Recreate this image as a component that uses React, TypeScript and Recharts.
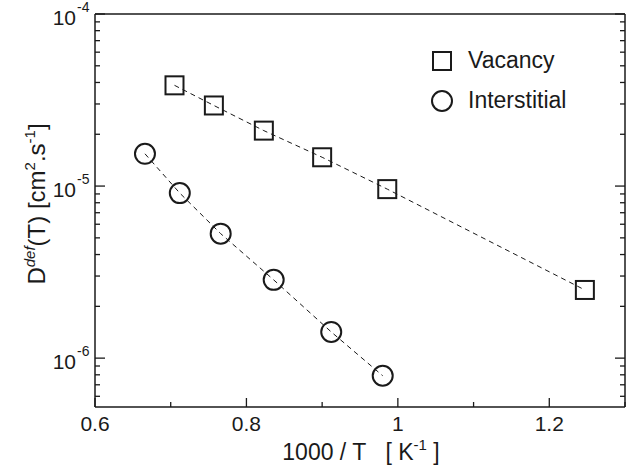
import React from "react";
import {
  ScatterChart,
  Scatter,
  XAxis,
  YAxis,
} from "recharts";

// 1000/T [K^-1] and D_def [cm^2/s]
const vacancyX = [0.705, 0.757, 0.823, 0.9, 0.986, 1.247];
const vacancyD = [3.85e-5, 2.94e-5, 2.1e-5, 1.47e-5, 9.6e-6, 2.49e-6];
const interstitialX = [0.666, 0.712, 0.766, 0.836, 0.912, 0.98];
const interstitialD = [1.54e-5, 9.1e-6, 5.29e-6, 2.85e-6, 1.42e-6, 7.9e-7];

const xTicks = [0.6, 0.7, 0.8, 0.9, 1.0, 1.1, 1.2, 1.3];
const xLabels: Record<string, string> = { "0.6": "0.6", "0.8": "0.8", "1": "1", "1.2": "1.2" };
const decades = [-7, -6, -5];
const yTicks = decades
  .flatMap((d) => [1, 2, 3, 4, 5, 6, 7, 8, 9].map((m) => m * Math.pow(10, d)))
  .concat([1e-4])
  .filter((v) => v >= 5.2e-7);

const vacancy = vacancyX.map((x, i) => ({ x, y: vacancyD[i] }));
const interstitial = interstitialX.map((x, i) => ({ x, y: interstitialD[i] }));

const FONT = "'Liberation Sans', Arial, Helvetica, sans-serif";
const INK = "#1a1a1a";

const isMajorX = (v: number) => xLabels[String(+v.toFixed(1))] !== undefined;
const isDecade = (v: number) => {
  const l = Math.log10(v);
  return Math.abs(l - Math.round(l)) < 1e-6;
};

const BottomTick = (props: any) => {
  const { x, y, payload } = props;
  const key = String(+payload.value.toFixed(1));
  const major = isMajorX(payload.value);
  return (
    <g>
      <line x1={x} x2={x} y1={y} y2={y - (major ? 9 : 5)} stroke={INK} strokeWidth={1.3} />
      {major && (
        <text x={x} y={y + 24} textAnchor="middle" fontSize={21} fontFamily={FONT} fill={INK}>
          {xLabels[key]}
        </text>
      )}
    </g>
  );
};

const TopTick = (props: any) => {
  const { x, y, payload } = props;
  const major = isMajorX(payload.value);
  return <line x1={x} x2={x} y1={y} y2={y + (major ? 9 : 5)} stroke={INK} strokeWidth={1.3} />;
};

const LeftTick = (props: any) => {
  const { x, y, payload } = props;
  const major = isDecade(payload.value);
  const exp = Math.round(Math.log10(payload.value));
  return (
    <g>
      <line x1={x} x2={x + (major ? 10 : 5)} y1={y} y2={y} stroke={INK} strokeWidth={1.3} />
      {major && (
        <text x={x - 19} y={y + 11} textAnchor="end" fontSize={21} fontFamily={FONT} fill={INK}>
          10
        </text>
      )}
      {major && (
        <text x={x - 18} y={y - 2} textAnchor="start" fontSize={14} fontFamily={FONT} fill={INK}>
          {exp}
        </text>
      )}
    </g>
  );
};

const RightTick = (props: any) => {
  const { x, y, payload } = props;
  const major = isDecade(payload.value);
  return <line x1={x} x2={x - (major ? 10 : 5)} y1={y} y2={y} stroke={INK} strokeWidth={1.3} />;
};

const SquareDot = (props: any) => (
  <rect x={props.cx - 9} y={props.cy - 9} width={18} height={18} fill="none" stroke={INK} strokeWidth={2} />
);
const CircleDot = (props: any) => (
  <circle cx={props.cx} cy={props.cy} r={10} fill="none" stroke={INK} strokeWidth={2} />
);

const LegendBox = () => (
  <svg width={180} height={70} style={{ position: "absolute", left: 430, top: 46, overflow: "visible" }}>
    <rect x={3} y={6} width={18} height={18} fill="none" stroke={INK} strokeWidth={2} />
    <text x={38} y={22} fontSize={23} fontFamily={FONT} fill={INK}>Vacancy</text>
    <circle cx={12} cy={55} r={10} fill="none" stroke={INK} strokeWidth={2} />
    <text x={38} y={62} fontSize={23} fontFamily={FONT} fill={INK}>Interstitial</text>
  </svg>
);

const YLabel = () => (
  <text transform="translate(45,204) rotate(-90)" textAnchor="middle" fontSize={24} fontFamily={FONT} fill={INK}>
    D
    <tspan fontSize={15} fontStyle="italic" dy={-10}>def</tspan>
    <tspan dy={10}>(T) [cm</tspan>
    <tspan fontSize={15} dy={-10}>2</tspan>
    <tspan dy={10}>.s</tspan>
    <tspan fontSize={15} dy={-10}>-1</tspan>
    <tspan dy={10}>]</tspan>
  </text>
);

const XLabel = () => (
  <text x={361} y={460} textAnchor="middle" fontSize={23} fontFamily={FONT} fill={INK}>
    1000 / T{"\u00a0\u00a0\u00a0"}[ K
    <tspan fontSize={15} dy={-10}>-1</tspan>
    <tspan dy={10}>{"\u00a0"}]</tspan>
  </text>
);

export default function App() {
  return (
    <div style={{ position: "relative", width: 637, height: 472, background: "#fff" }}>
      <style>{`body{margin:0}`}</style>
      <ScatterChart width={637} height={472} margin={{ top: 0, right: 0, bottom: 0, left: 0 }}>
        <XAxis
          xAxisId="bottom"
          dataKey="x"
          type="number"
          domain={[0.6, 1.3]}
          ticks={xTicks}
          interval={0}
          height={65}
          tickSize={0}
          tickMargin={0}
          tickLine={false}
          tick={<BottomTick />}
          axisLine={{ stroke: INK, strokeWidth: 1.5 }}
          allowDataOverflow
          label={{ content: () => <XLabel /> }}
        />
        <XAxis
          xAxisId="top"
          orientation="top"
          type="number"
          domain={[0.6, 1.3]}
          ticks={xTicks}
          interval={0}
          height={14}
          tickSize={0}
          tickMargin={0}
          tickLine={false}
          tick={<TopTick />}
          axisLine={{ stroke: INK, strokeWidth: 1.5 }}
          allowDataOverflow
        />
        <YAxis
          yAxisId="left"
          dataKey="y"
          type="number"
          scale="log"
          domain={[5.2e-7, 1e-4]}
          ticks={yTicks}
          interval={0}
          width={95}
          tickSize={0}
          tickMargin={0}
          tickLine={false}
          tick={<LeftTick />}
          axisLine={{ stroke: INK, strokeWidth: 1.5 }}
          allowDataOverflow
          label={{ content: () => <YLabel /> }}
        />
        <YAxis
          yAxisId="right"
          orientation="right"
          type="number"
          scale="log"
          domain={[5.2e-7, 1e-4]}
          ticks={yTicks}
          interval={0}
          width={12}
          tickSize={0}
          tickMargin={0}
          tickLine={false}
          tick={<RightTick />}
          axisLine={{ stroke: INK, strokeWidth: 1.5 }}
          allowDataOverflow
        />
        <Scatter
          name="Vacancy"
          data={vacancy}
          xAxisId="bottom"
          yAxisId="left"
          line={{ stroke: INK, strokeWidth: 1, strokeDasharray: "5 4" }}
          shape={<SquareDot />}
          isAnimationActive={false}
        />
        <Scatter
          name="Interstitial"
          data={interstitial}
          xAxisId="bottom"
          yAxisId="left"
          line={{ stroke: INK, strokeWidth: 1, strokeDasharray: "5 4" }}
          shape={<CircleDot />}
          isAnimationActive={false}
        />
      </ScatterChart>
      <LegendBox />
    </div>
  );
}
